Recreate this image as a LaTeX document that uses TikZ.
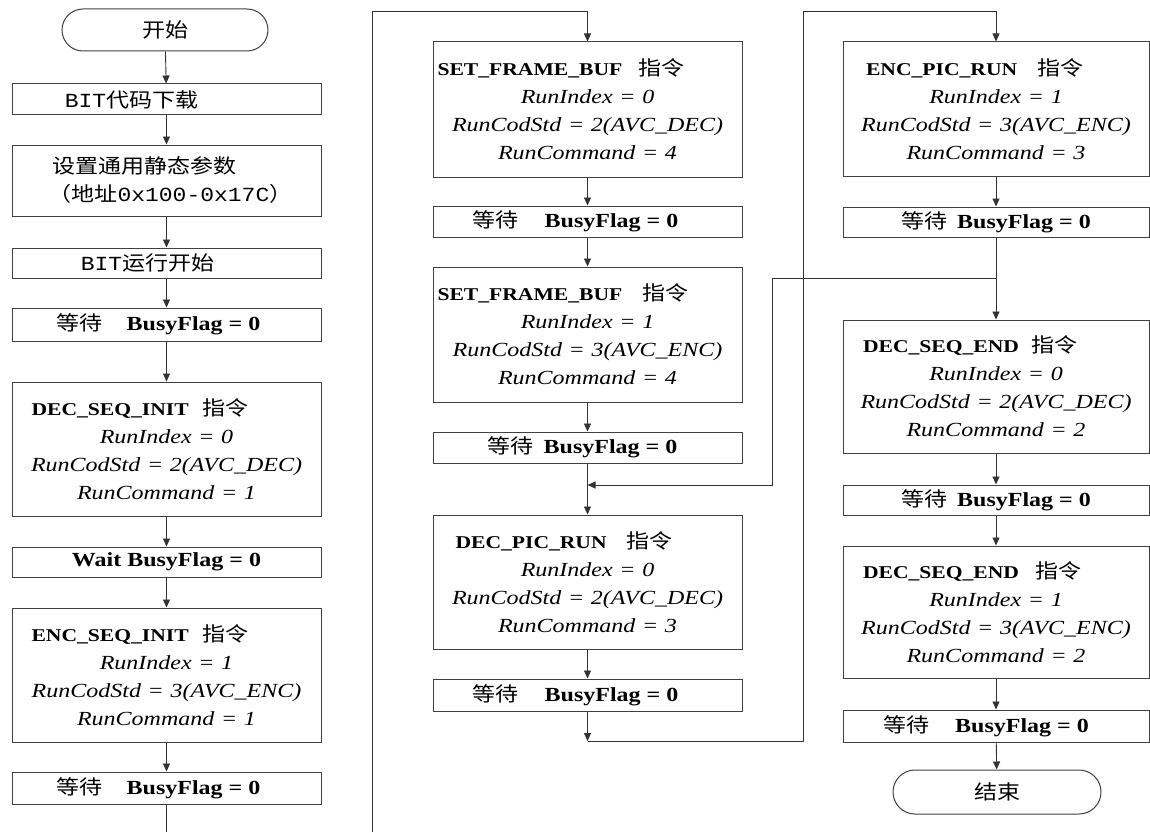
\documentclass[tikz,border=0pt]{standalone}
\usepackage{fontspec}
\setmainfont{Liberation Serif}[FakeStretch=1.2]
\newfontfamily\cjk{Noto Sans CJK SC}[FakeStretch=1.15]
\newfontfamily\monof{Liberation Mono}[FakeStretch=1.15]
\usetikzlibrary{shapes.misc,arrows.meta}
\newcommand\cmdtext[6]{\makebox[300pt][l]{\hspace*{#1}{\fontsize{18}{28}\selectfont\bfseries #2}\hspace*{#3}{\cjk 指令}}\\{\itshape #4}\\{\itshape #5}\\{\itshape #6}}
\newcommand\waittext[1]{{\cjk 等待}\hspace*{#1}\textbf{BusyFlag = 0}}
\tikzset{
  box/.style={draw=black!75, line width=1pt, rectangle, inner sep=0pt, align=center,
    font=\fontsize{20}{28}\selectfont},
  lbox/.style={box, minimum width=309pt},
  rbox/.style={box, minimum width=306pt},
  cmd/.style={text width=300pt},
  term/.style={draw=black!75, line width=1pt, rounded rectangle, inner sep=0pt,
    minimum width=206pt, minimum height=42pt, font=\fontsize{20}{24}\selectfont},
  conn/.style={draw=black!80, line width=0.9pt},
  arr/.style={conn, -{Triangle[length=8pt,width=7pt]}}
}
\begin{document}
\begin{tikzpicture}[x=1pt,y=-1pt]
\useasboundingbox (0,0) rectangle (1150,832);
% ---------- left column ----------
\node[term] (start) at (165,30) {{\cjk 开始}};
\node[lbox, minimum height=31pt] (b1) at (166.5,99.5) {{\monof BIT}{\cjk 代码下载}\hspace*{70pt}};
\node[lbox, minimum height=71pt, text width=300pt, align=left] (b2) at (166.5,180.5)
  {\hspace*{36pt}{\cjk 设置通用静态参数}\\\hspace*{32pt}{\cjk （地址}{\monof 0x100-0x17C}{\cjk ）}\par\vspace{14pt}};
\node[lbox, minimum height=30pt] (b3) at (166.5,263) {{\monof BIT}{\cjk 运行开始}\hspace*{38pt}};
\node[lbox, minimum height=33pt] (w1) at (166.5,324.5) {\waittext{24pt}\hspace*{16pt}};
\node[lbox, cmd, minimum height=134pt] (dsi) at (166.5,449)
  {\cmdtext{15pt}{DEC\_SEQ\_INIT}{14pt}{RunIndex = 0}{RunCodStd = 2(AVC\_DEC)}{RunCommand = 1}};
\node[lbox, minimum height=30pt] (w2) at (166.5,562) {\textbf{Wait BusyFlag = 0}};
\node[lbox, cmd, minimum height=134pt] (esi) at (166.5,675)
  {\cmdtext{15pt}{ENC\_SEQ\_INIT}{14pt}{RunIndex = 1}{RunCodStd = 3(AVC\_ENC)}{RunCommand = 1}};
\node[lbox, minimum height=32pt] (w3) at (166.5,788) {\waittext{24pt}\hspace*{16pt}};
% ---------- middle column ----------
\node[lbox, cmd, minimum height=135pt] (sfb1) at (587.5,109.5)
  {\cmdtext{0pt}{SET\_FRAME\_BUF}{16pt}{RunIndex = 0}{RunCodStd = 2(AVC\_DEC)}{RunCommand = 4}};
\node[lbox, minimum height=31pt] (w4) at (587.5,221.5) {\waittext{26pt}\hspace*{24pt}};
\node[lbox, cmd, minimum height=135pt] (sfb2) at (587.5,334.5)
  {\cmdtext{0pt}{SET\_FRAME\_BUF}{20pt}{RunIndex = 1}{RunCodStd = 3(AVC\_ENC)}{RunCommand = 4}};
\node[lbox, minimum height=31pt] (w5) at (587.5,447.5) {\waittext{10pt}\hspace*{10pt}};
\node[lbox, cmd, minimum height=134pt] (dpr) at (587.5,582)
  {\cmdtext{18pt}{DEC\_PIC\_RUN}{20pt}{RunIndex = 0}{RunCodStd = 2(AVC\_DEC)}{RunCommand = 3}};
\node[lbox, minimum height=32pt] (w6) at (587.5,695) {\waittext{26pt}\hspace*{24pt}};
% ---------- right column ----------
\node[rbox, cmd, minimum height=134pt] (epr) at (996,109)
  {\cmdtext{20pt}{ENC\_PIC\_RUN}{20pt}{RunIndex = 1}{RunCodStd = 3(AVC\_ENC)}{RunCommand = 3}};
\node[rbox, minimum height=30pt] (w7) at (996,222) {\waittext{10pt}};
\node[rbox, cmd, minimum height=133pt] (dse1) at (996,386.5)
  {\cmdtext{17pt}{DEC\_SEQ\_END}{12pt}{RunIndex = 0}{RunCodStd = 2(AVC\_DEC)}{RunCommand = 2}};
\node[rbox, minimum height=30pt] (w8) at (996,500) {\waittext{10pt}};
\node[rbox, cmd, minimum height=132pt] (dse2) at (996,612)
  {\cmdtext{17pt}{DEC\_SEQ\_END}{16pt}{RunIndex = 1}{RunCodStd = 3(AVC\_ENC)}{RunCommand = 2}};
\node[rbox, minimum height=32pt] (w9) at (996,726) {\waittext{26pt}\hspace*{20pt}};
\node[term, minimum width=208pt, minimum height=44pt] (end) at (997,792) {{\cjk 结束}};
% ---------- coordinates ----------
\coordinate (lb) at (166.5,832);
\coordinate (mb) at (372,832);
\coordinate (tm) at (372,11);
\coordinate (bm) at (587.5,741);
\coordinate (br) at (803,741);
\coordinate (tr) at (803,11);
\coordinate (j)  at (996,278);
\coordinate (jl) at (772,278);
\coordinate (jm) at (772,485);
\coordinate (mj) at (587.5,485);
% ---------- connectors ----------
\draw[arr] (start) -- (b1);
\draw[arr] (b1) -- (b2);
\draw[arr] (b2) -- (b3);
\draw[arr] (b3) -- (w1);
\draw[arr] (w1) -- (dsi);
\draw[arr] (dsi) -- (w2);
\draw[arr] (w2) -- (esi);
\draw[arr] (esi) -- (w3);
\draw[conn] (w3.south) -- (lb);
\draw[arr] (mb) -- (tm) -| (sfb1.north);
\draw[arr] (sfb1) -- (w4);
\draw[arr] (w4) -- (sfb2);
\draw[arr] (sfb2) -- (w5);
\draw[arr] (w5) -- (dpr);
\draw[arr] (dpr) -- (w6);
\draw[arr] (w6.south) -- (bm);
\draw[conn] (bm) -- (br) -- (tr);
\draw[arr] (tr) -| (epr.north);
\draw[arr] (epr) -- (w7);
\draw[conn] (w7.south) -- (j);
\draw[arr] (j) -- (dse1.north);
\draw[arr] (j) -- (jl) -- (jm) -- (mj);
\draw[arr] (dse1) -- (w8);
\draw[arr] (w8) -- (dse2);
\draw[arr] (dse2) -- (w9);
\draw[arr] (w9) -- (end);
\end{tikzpicture}
\end{document}
